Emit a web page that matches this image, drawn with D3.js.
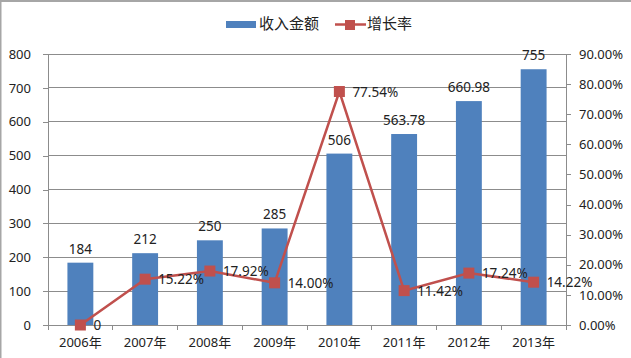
<!DOCTYPE html>
<html><head><meta charset="utf-8">
<script src="https://cdn.jsdelivr.net/npm/d3@7"></script>
<style>body{margin:0;background:#fff}svg{display:block}</style>
</head><body>
<svg id="c" width="631" height="358"></svg>
<script>
const categories = ["2006年","2007年","2008年","2009年","2010年","2011年","2012年","2013年"];
const revenue = [184, 212, 250, 285, 506, 563.78, 660.98, 755];
const revenueLabels = ["184","212","250","285","506","563.78","660.98","755"];
const growth = [0, 15.22, 17.92, 14.00, 77.54, 11.42, 17.24, 14.22];
const growthLabels = ["0","15.22%","17.92%","14.00%","77.54%","11.42%","17.24%","14.22%"];
const leftTicks = [0,100,200,300,400,500,600,700,800];
const rightTicks = [0,10,20,30,40,50,60,70,80,90];
const seriesNames = ["收入金额","增长率"];

const svg = d3.select("#c");
const W = 631, H = 358;
const m = {l:48, r:65, t:54, b:33};
const font = "'Noto Sans', 'Noto Sans CJK SC', sans-serif";
const blue = "#4F81BD", red = "#C0504D";

svg.append("rect").attr("width",W).attr("height",H).attr("fill","#fff");
svg.append("rect").attr("x",0).attr("y",0).attr("width",W).attr("height",2).attr("fill","#a6a6a6");
svg.append("rect").attr("x",0).attr("y",0).attr("width",1.5).attr("height",H).attr("fill","#a6a6a6");

const x = d3.scaleBand().domain(categories).range([m.l, W-m.r]).padding(0);
const yL = d3.scaleLinear().domain([0,800]).range([H-m.b, m.t]);
const yR = d3.scaleLinear().domain([0,90]).range([H-m.b, m.t]);

// gridlines
svg.append("g").selectAll("line").data(leftTicks.filter(d=>d>0)).join("line")
  .attr("x1",m.l).attr("x2",W-m.r).attr("y1",d=>yL(d)).attr("y2",d=>yL(d))
  .attr("stroke","#8c8c8c").attr("stroke-width",1).attr("shape-rendering","crispEdges");

// left axis
const gl = svg.append("g").attr("transform",`translate(${m.l},0)`)
  .call(d3.axisLeft(yL).tickValues(leftTicks).tickSize(5).tickPadding(12).tickFormat(d3.format("d")));
// right axis
const gr = svg.append("g").attr("transform",`translate(${W-m.r},0)`)
  .call(d3.axisRight(yR).tickValues(rightTicks).tickSize(5).tickPadding(8).tickFormat(d=>d.toFixed(2)+"%"));
// bottom axis
const gb = svg.append("g").attr("transform",`translate(0,${H-m.b})`)
  .call(d3.axisBottom(x).tickSize(0).tickPadding(13));
gb.selectAll(".boundary").data(d3.range(categories.length+1)).join("line")
  .attr("x1",i=>m.l+i*x.step()).attr("x2",i=>m.l+i*x.step()).attr("y1",0).attr("y2",5)
  .attr("stroke","#8c8c8c").attr("shape-rendering","crispEdges");
[gl,gr,gb].forEach(g=>{
  g.selectAll(".domain").attr("stroke","#8c8c8c").attr("shape-rendering","crispEdges");
  g.selectAll(".tick line").attr("stroke","#8c8c8c").attr("shape-rendering","crispEdges");
  g.selectAll("text").attr("font-family",font).attr("font-size",13).attr("fill","#222");
});

// bars
const bw = x.bandwidth()*0.4;
svg.append("g").selectAll("rect").data(revenue).join("rect")
  .attr("x",(d,i)=>x(categories[i])+x.bandwidth()/2-bw/2)
  .attr("width",bw)
  .attr("y",d=>yL(d)).attr("height",d=>yL(0)-yL(d))
  .attr("fill",blue);
svg.append("g").selectAll("text").data(revenue).join("text")
  .attr("x",(d,i)=>x(categories[i])+x.bandwidth()/2)
  .attr("y",d=>yL(d)-9)
  .attr("text-anchor","middle").attr("font-family",font).attr("font-size",13.5).attr("fill","#222")
  .text((d,i)=>revenueLabels[i]);

// line
const line = d3.line().x((d,i)=>x(categories[i])+x.bandwidth()/2).y(d=>yR(d));
svg.append("path").datum(growth).attr("d",line).attr("fill","none").attr("stroke",red).attr("stroke-width",2.5);
svg.append("g").selectAll("rect").data(growth).join("rect")
  .attr("x",(d,i)=>x(categories[i])+x.bandwidth()/2-5.5)
  .attr("y",d=>yR(d)-5.5).attr("width",11).attr("height",11).attr("fill",red);
svg.append("g").selectAll("text").data(growth).join("text")
  .attr("x",(d,i)=>x(categories[i])+x.bandwidth()/2+13)
  .attr("y",d=>yR(d)+5)
  .attr("font-family",font).attr("font-size",13.5).attr("fill","#222")
  .text((d,i)=>growthLabels[i]);

// legend
const lg = svg.append("g");
const lfont = "'Noto Sans CJK SC', sans-serif";
lg.append("rect").attr("x",226).attr("y",21).attr("width",30).attr("height",7).attr("fill",blue);
lg.append("text").attr("x",259).attr("y",29).attr("font-family",lfont).attr("font-size",15).attr("fill","#222").text(seriesNames[0]);
lg.append("line").attr("x1",335).attr("x2",366).attr("y1",24.5).attr("y2",24.5).attr("stroke",red).attr("stroke-width",2.5);
lg.append("rect").attr("x",345).attr("y",20).attr("width",10).attr("height",10).attr("fill",red);
lg.append("text").attr("x",367).attr("y",29).attr("font-family",lfont).attr("font-size",15).attr("fill","#222").text(seriesNames[1]);
</script>
</body></html>
